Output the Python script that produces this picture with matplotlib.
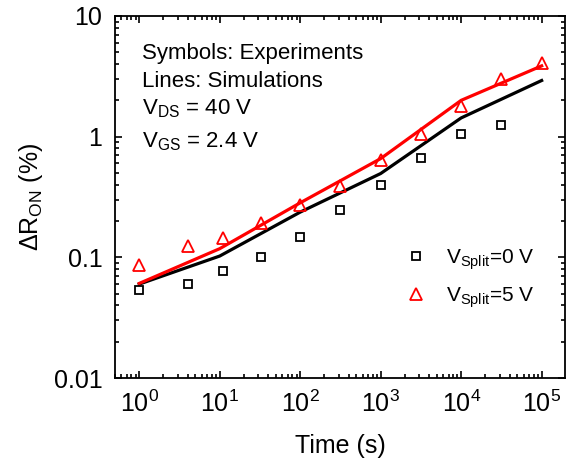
import matplotlib
matplotlib.use("Agg")
import matplotlib.pyplot as plt
from matplotlib.ticker import LogLocator, NullFormatter, FixedLocator, FixedFormatter

plt.rcParams["font.family"] = ["Liberation Sans", "DejaVu Sans"]
plt.rcParams["mathtext.fontset"] = "custom"
plt.rcParams["mathtext.rm"] = "Liberation Sans"
plt.rcParams["mathtext.it"] = "Liberation Sans"

# experiments (symbols)
exp_time = [1, 4, 11, 33, 100, 316, 1000, 3162, 10000, 31623]
exp_v0 = [0.054, 0.060, 0.077, 0.100, 0.148, 0.246, 0.40, 0.667, 1.05, 1.26]
exp_time5 = [1, 4, 11, 33, 100, 316, 1000, 3162, 10000, 31623, 100000]
exp_v5 = [0.086, 0.124, 0.146, 0.194, 0.269, 0.389, 0.645, 1.06, 1.78, 3.0, 4.07]

# simulations (lines)
sim_time = [1, 10, 100, 1000, 10000, 100000]
sim_v0 = [0.060, 0.1025, 0.237, 0.495, 1.43, 2.92]
sim_v5 = [0.0608, 0.118, 0.283, 0.658, 2.0, 3.86]

fig = plt.figure(figsize=(5.75, 4.66), dpi=100)
ax = fig.add_axes([0.2, 0.1888, 0.7826, 0.7769])

ax.plot(sim_time, sim_v0, color="black", lw=2.3)
ax.plot(sim_time, sim_v5, color="red", lw=2.3)
ax.plot(exp_time, exp_v0, ls="none", marker="s", ms=5.5, mfc="none",
        mec="black", mew=1.3, label=r"V$_{\mathrm{Split}}$=0 V")
ax.plot(exp_time5, exp_v5, ls="none", marker="^", ms=8, mfc="none",
        mec="red", mew=1.3, label=r"V$_{\mathrm{Split}}$=5 V")

ax.set_xscale("log")
ax.set_yscale("log")
ax.set_xlim(0.5, 1.95e5)
ax.set_ylim(0.01, 10)

ax.xaxis.set_major_locator(LogLocator(base=10, numticks=10))
ax.xaxis.set_minor_locator(LogLocator(base=10, subs=range(2, 10), numticks=20))
ax.xaxis.set_minor_formatter(NullFormatter())
ax.yaxis.set_major_locator(FixedLocator([0.01, 0.1, 1, 10]))
ax.yaxis.set_major_formatter(FixedFormatter(["0.01", "0.1", "1", "10"]))
ax.yaxis.set_minor_locator(LogLocator(base=10, subs=range(2, 10), numticks=20))
ax.yaxis.set_minor_formatter(NullFormatter())

ax.tick_params(which="both", direction="in", top=True, right=True, labelsize=18, width=1.2)
ax.tick_params(which="major", length=5)
ax.tick_params(which="minor", length=3)
ax.tick_params(axis="x", which="major", pad=9)
ax.tick_params(axis="y", which="major", pad=9)
for s in ax.spines.values():
    s.set_linewidth(1.3)

ax.set_xlabel("Time (s)", fontsize=18, labelpad=12)
ax.set_ylabel(r"$\Delta$R$_{\mathrm{ON}}$ (%)", fontsize=18, labelpad=6)

ax.text(0.06, 0.881, "Symbols: Experiments", transform=ax.transAxes, fontsize=16)
ax.text(0.06, 0.804, "Lines: Simulations", transform=ax.transAxes, fontsize=16)
ax.text(0.06, 0.729, r"V$_{\mathrm{DS}}$ = 40 V", transform=ax.transAxes, fontsize=16)
ax.text(0.06, 0.638, r"V$_{\mathrm{GS}}$ = 2.4 V", transform=ax.transAxes, fontsize=16)

ax.legend(loc="lower right", bbox_to_anchor=(0.975, 0.136), frameon=False,
          fontsize=15, handletextpad=0.45, labelspacing=0.65)

fig.savefig("out.png", dpi=100)
